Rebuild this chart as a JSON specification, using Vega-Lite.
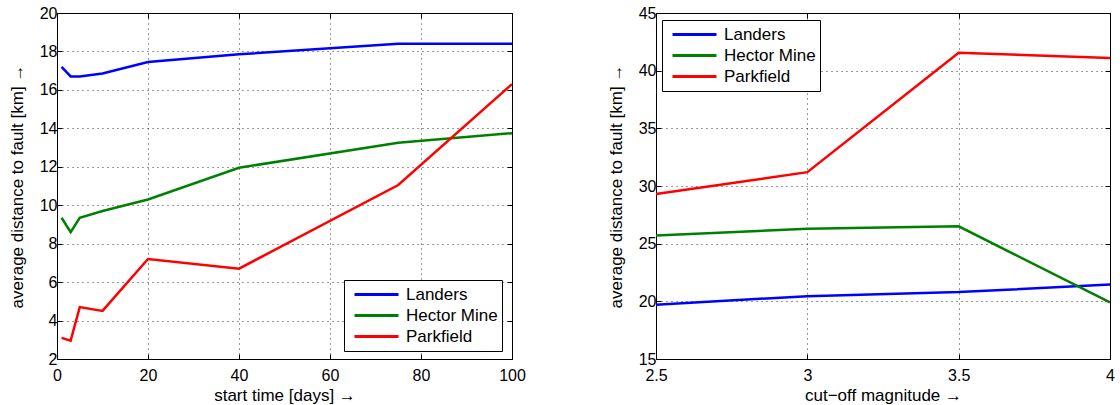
{
  "$schema": "https://vega.github.io/schema/vega-lite/v6.json",
  "background": "white",
  "padding": {"left": 7, "top": 4, "right": 5, "bottom": 1},
  "config": {
    "font": "Liberation Sans",
    "view": {"stroke": "black", "strokeWidth": 1},
    "axis": {
      "labelFont": "Liberation Sans", "labelFontSize": 16, "labelColor": "black", "labelFlush": false, "labelOverlap": false,
      "titleFont": "Liberation Sans", "titleFontSize": 17, "titleFontWeight": "normal", "titleColor": "black",
      "domain": false, "tickColor": "black", "tickSize": -5, "labelPadding": 5,
      "grid": true, "gridColor": "black", "gridOpacity": 0.8, "gridDash": [1, 4], "gridWidth": 1
    },
    "axisX": {"labelPadding": 13, "titlePadding": 4},
    "legend": {
      "labelFont": "Liberation Sans", "labelFontSize": 17, "labelColor": "black",
      "strokeColor": "black", "fillColor": "white", "padding": 4,
      "symbolType": "stroke", "symbolSize": 1936, "symbolStrokeWidth": 3, "symbolOffset": 5,
      "clipHeight": 21, "labelOffset": 6, "rowPadding": 0
    }
  },
  "datasets": {
    "left": [
      {"series": "Landers", "x": 1, "y": 17.2},
      {"series": "Landers", "x": 3, "y": 16.7},
      {"series": "Landers", "x": 5, "y": 16.7},
      {"series": "Landers", "x": 10, "y": 16.85},
      {"series": "Landers", "x": 20, "y": 17.45},
      {"series": "Landers", "x": 40, "y": 17.85},
      {"series": "Landers", "x": 75, "y": 18.4},
      {"series": "Landers", "x": 100, "y": 18.4},
      {"series": "Hector Mine", "x": 1, "y": 9.35},
      {"series": "Hector Mine", "x": 3, "y": 8.6},
      {"series": "Hector Mine", "x": 5, "y": 9.35},
      {"series": "Hector Mine", "x": 10, "y": 9.7},
      {"series": "Hector Mine", "x": 20, "y": 10.3},
      {"series": "Hector Mine", "x": 40, "y": 11.95},
      {"series": "Hector Mine", "x": 75, "y": 13.25},
      {"series": "Hector Mine", "x": 100, "y": 13.75},
      {"series": "Parkfield", "x": 1, "y": 3.1},
      {"series": "Parkfield", "x": 3, "y": 2.95},
      {"series": "Parkfield", "x": 5, "y": 4.7},
      {"series": "Parkfield", "x": 10, "y": 4.5},
      {"series": "Parkfield", "x": 20, "y": 7.2},
      {"series": "Parkfield", "x": 40, "y": 6.7},
      {"series": "Parkfield", "x": 75, "y": 11.05},
      {"series": "Parkfield", "x": 100, "y": 16.3}
    ],
    "right": [
      {"series": "Landers", "x": 2.5, "y": 19.7},
      {"series": "Landers", "x": 3.0, "y": 20.45},
      {"series": "Landers", "x": 3.5, "y": 20.8},
      {"series": "Landers", "x": 4.0, "y": 21.45},
      {"series": "Hector Mine", "x": 2.5, "y": 25.7},
      {"series": "Hector Mine", "x": 3.0, "y": 26.3},
      {"series": "Hector Mine", "x": 3.5, "y": 26.5},
      {"series": "Hector Mine", "x": 4.0, "y": 19.9},
      {"series": "Parkfield", "x": 2.5, "y": 29.3},
      {"series": "Parkfield", "x": 3.0, "y": 31.2},
      {"series": "Parkfield", "x": 3.5, "y": 41.55},
      {"series": "Parkfield", "x": 4.0, "y": 41.1}
    ]
  },
  "bounds": "flush",
  "spacing": 144,
  "resolve": {"scale": {"color": "independent"}},
  "hconcat": [
    {
      "width": 455, "height": 346,
      "data": {"name": "left"},
      "layer": [
        {
          "mark": {"type": "line", "strokeWidth": 2.5},
          "encoding": {
            "x": {"field": "x", "type": "quantitative", "scale": {"domain": [0, 100], "nice": false},
                  "axis": {"values": [0, 20, 40, 60, 80, 100], "title": "start time [days] →"}},
            "y": {"field": "y", "type": "quantitative", "scale": {"domain": [2, 20], "nice": false, "zero": false},
                  "axis": {"values": [2, 4, 6, 8, 10, 12, 14, 16, 18, 20], "title": "average distance to fault [km] →", "titlePadding": 13}},
            "color": {"field": "series", "type": "nominal",
                      "scale": {"domain": ["Landers", "Hector Mine", "Parkfield"], "range": ["#0000ff", "#008000", "#ff0000"]},
                      "legend": {"title": null, "orient": "none", "legendX": 287, "legendY": 267}}
          }
        },
        {
          "mark": {"type": "line", "strokeOpacity": 0},
          "encoding": {
            "x": {"field": "x", "type": "quantitative",
                  "axis": {"orient": "top", "values": [0, 20, 40, 60, 80, 100], "labels": false, "grid": false, "title": null}},
            "y": {"field": "y", "type": "quantitative",
                  "axis": {"orient": "right", "values": [2, 4, 6, 8, 10, 12, 14, 16, 18, 20], "labels": false, "grid": false, "title": null}}
          }
        }
      ],
      "resolve": {"axis": {"x": "independent", "y": "independent"}}
    },
    {
      "width": 454, "height": 346,
      "data": {"name": "right"},
      "layer": [
        {
          "mark": {"type": "line", "strokeWidth": 2.5},
          "encoding": {
            "x": {"field": "x", "type": "quantitative", "scale": {"domain": [2.5, 4], "nice": false, "zero": false},
                  "axis": {"values": [2.5, 3, 3.5, 4], "labelExpr": "'' + datum.value", "title": "cut−off magnitude →"}},
            "y": {"field": "y", "type": "quantitative", "scale": {"domain": [15, 45], "nice": false, "zero": false},
                  "axis": {"values": [15, 20, 25, 30, 35, 40, 45], "title": "average distance to fault [km] →", "titlePadding": 13}},
            "color": {"field": "series", "type": "nominal",
                      "scale": {"domain": ["Landers", "Hector Mine", "Parkfield"], "range": ["#0000ff", "#008000", "#ff0000"]},
                      "legend": {"title": null, "orient": "none", "legendX": 6, "legendY": 7}}
          }
        },
        {
          "mark": {"type": "line", "strokeOpacity": 0},
          "encoding": {
            "x": {"field": "x", "type": "quantitative",
                  "axis": {"orient": "top", "values": [2.5, 3, 3.5, 4], "labels": false, "grid": false, "title": null}},
            "y": {"field": "y", "type": "quantitative",
                  "axis": {"orient": "right", "values": [15, 20, 25, 30, 35, 40, 45], "labels": false, "grid": false, "title": null}}
          }
        }
      ],
      "resolve": {"axis": {"x": "independent", "y": "independent"}}
    }
  ]
}
